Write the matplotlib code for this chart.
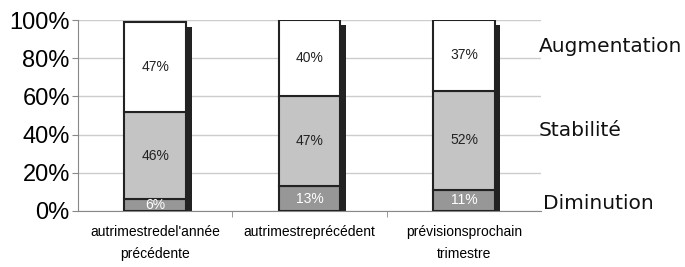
import numpy as np
import matplotlib.pyplot as plt
from matplotlib.patches import Rectangle

categories = ["autrimestredel'année\nprécédente", "autrimestreprécédent", "prévisionsprochain\ntrimestre"]
diminution = [6, 13, 11]
stabilite = [46, 47, 52]
augmentation = [47, 40, 37]
series_names = ["Diminution", "Stabilité", "Augmentation"]
colors = ["#979797", "#c4c4c4", "#ffffff"]
text_colors = ["white", "#222222", "#222222"]

fig = plt.figure(figsize=(6.85, 2.67), dpi=100)
ax = fig.add_axes([0.114, 0.21, 0.676, 0.715])

x = np.arange(len(categories))
w = 0.4
series = [diminution, stabilite, augmentation]
bottoms = np.zeros(len(categories))
totals = np.sum(series, axis=0)

# shadow behind each bar
for xi, tot in zip(x, totals):
    ax.add_patch(Rectangle((xi + w / 2, 0), 0.035, tot - 2.5, facecolor="#222222",
                           edgecolor="none", zorder=2))

for vals, col, tc in zip(series, colors, text_colors):
    ax.bar(x, vals, w, bottom=bottoms, color=col, edgecolor="#222222", linewidth=1.5, zorder=3)
    for xi, b, v in zip(x, bottoms, vals):
        ax.text(xi, b + v / 2, f"{v}%", ha="center", va="center", color=tc,
                fontsize=10, family="Liberation Sans", zorder=4)
    bottoms = bottoms + np.array(vals)

ax.set_xlim(-0.5, 2.5)
ax.set_ylim(0, 100)
ax.set_yticks(range(0, 101, 20))
ax.set_yticklabels([f"{v}%" for v in range(0, 101, 20)], family="Liberation Sans", fontsize=17)
ax.yaxis.grid(True, color="#cccccc", linewidth=1)
ax.set_axisbelow(True)

ax.set_xticks(x)
ax.set_xticklabels(categories, family="Liberation Sans", fontsize=10, linespacing=1.75)
ax.tick_params(axis="x", length=0, pad=10)
ax.set_xticks([0.5, 1.5], minor=True)
ax.tick_params(axis="x", which="minor", length=4, color="#888888")
ax.tick_params(axis="y", length=4, color="#888888", pad=2)

for s in ["top", "right"]:
    ax.spines[s].set_visible(False)
for s in ["left", "bottom"]:
    ax.spines[s].set_color("#888888")

# series labels on the right
label_pos = [(1.004, 4), (0.994, 42), (0.994, 86)]
for name, (xa, yv) in zip(series_names, label_pos):
    ax.text(xa, yv / 100, name, transform=ax.transAxes, ha="left", va="center",
            fontsize=14.5, family="DejaVu Sans", color="#111111")

fig.savefig("out.png", dpi=100)
